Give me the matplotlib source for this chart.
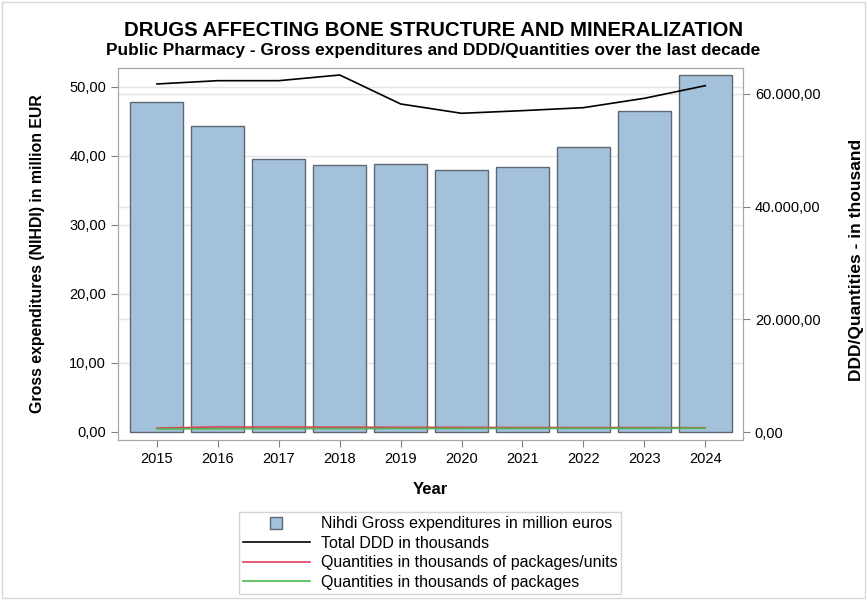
import matplotlib
matplotlib.use("Agg")
import matplotlib.pyplot as plt
from matplotlib.ticker import FuncFormatter
from matplotlib.patches import Rectangle
from matplotlib.lines import Line2D
from matplotlib.transforms import blended_transform_factory

plt.rcParams['font.family'] = ['Liberation Sans', 'DejaVu Sans']

years = ["2015", "2016", "2017", "2018", "2019", "2020", "2021", "2022", "2023", "2024"]
expenditures = [47.8, 44.35, 39.55, 38.7, 38.85, 37.95, 38.4, 41.3, 46.5, 51.7]
total_ddd = [61775, 62360, 62360, 63370, 58225, 56570, 57040, 57570, 59230, 61470]
qty_pack_units = [700, 900, 880, 860, 840, 820, 800, 790, 780, 760]
qty_packages = [550, 580, 600, 610, 620, 630, 640, 650, 660, 670]

def fmt_comma(v, pos=None):
    s = f"{v:,.2f}"
    return s.replace(",", "X").replace(".", ",").replace("X", ".")

fig = plt.figure(figsize=(8.67, 6.0), dpi=100)
ax = fig.add_axes([118/867, 160/600, (743-118)/867, (440-68)/600])
ax2 = ax.twinx()

x = list(range(len(years)))
bar_c = "#A3C1DA"
edge_c = "#5E6875"
ax.bar(x, expenditures, width=0.87, color=bar_c, edgecolor=edge_c, linewidth=1.0, zorder=2)
ax.set_ylim(-1.16, 52.75)
ax.set_xlim(-0.64, 9.62)
ax.set_yticks([0, 10, 20, 30, 40, 50])
ax.yaxis.set_major_formatter(FuncFormatter(fmt_comma))
ax.set_xticks(x)
ax.set_xticklabels(years)

ax2.plot(x, total_ddd, color="black", lw=1.2, zorder=3)
ax2.plot(x, qty_pack_units, color="#E0405E", lw=1.2, zorder=3)
ax2.plot(x, qty_packages, color="#4CB84C", lw=1.2, zorder=3)
ax2.set_ylim(-1420, 64610)
ax2.set_yticks([0, 20000, 40000, 60000])
ax2.yaxis.set_major_formatter(FuncFormatter(fmt_comma))

for yv in [10, 20, 30, 40, 50]:
    ax.axhline(yv, color="#E4E4E4", lw=1, zorder=0)
tr = blended_transform_factory(ax.transAxes, ax2.transData)
for yv in [20000, 40000, 60000]:
    ax.plot([0, 1], [yv, yv], transform=tr, color="#E4E4E4", lw=1, zorder=0)
ax.set_zorder(1)
ax.patch.set_visible(False)
ax2.set_zorder(2)
ax2.patch.set_visible(False)

for a in (ax, ax2):
    for s in a.spines.values():
        s.set_color("#A8A8A8")
    a.tick_params(colors="#808080", labelcolor="black", labelsize=10.5, length=5)

ax.set_xlabel("Year", fontsize=12, fontweight="bold", labelpad=12)
fig.text(38/867, 1 - 254/600, "Gross expenditures (NIHDI) in million EUR", rotation=90,
         ha="center", va="center", fontsize=11.4, fontweight="bold")
fig.text(857/867, 1 - 260/600, "DDD/Quantities - in thousand", rotation=90,
         ha="center", va="center", fontsize=12.5, fontweight="bold")

fig.text(0.5, 1 - 30/600, "DRUGS AFFECTING BONE STRUCTURE AND MINERALIZATION",
         ha="center", va="center", fontsize=14.7, fontweight="bold")
fig.text(0.5, 1 - 50/600, "Public Pharmacy - Gross expenditures and DDD/Quantities over the last decade",
         ha="center", va="center", fontsize=12.4, fontweight="bold")

handles = [
    Line2D([], [], linestyle="none", marker="s", markersize=9, markerfacecolor=bar_c,
           markeredgecolor=edge_c, markeredgewidth=1),
    Line2D([], [], color="black", lw=1.2),
    Line2D([], [], color="#E0405E", lw=1.2),
    Line2D([], [], color="#4CB84C", lw=1.2),
]
labels = ["Nihdi Gross expenditures in million euros", "Total DDD in thousands",
          "Quantities in thousands of packages/units", "Quantities in thousands of packages"]
leg = fig.legend(handles, labels, loc="center", bbox_to_anchor=(430/867, 1 - 553/600),
                 frameon=True, fancybox=False, fontsize=11.5, handlelength=4.2,
                 labelspacing=0.28, borderpad=0.25, handletextpad=0.7, borderaxespad=0)
leg.get_frame().set_edgecolor("#C8C8C8")
leg.get_frame().set_linewidth(1)

fig.patches.append(Rectangle((2/867, 2/600), 1 - 4/867, 1 - 4/600, transform=fig.transFigure,
                             fill=False, edgecolor="#D8D8D8", lw=1))

fig.savefig("out.png", dpi=100)
